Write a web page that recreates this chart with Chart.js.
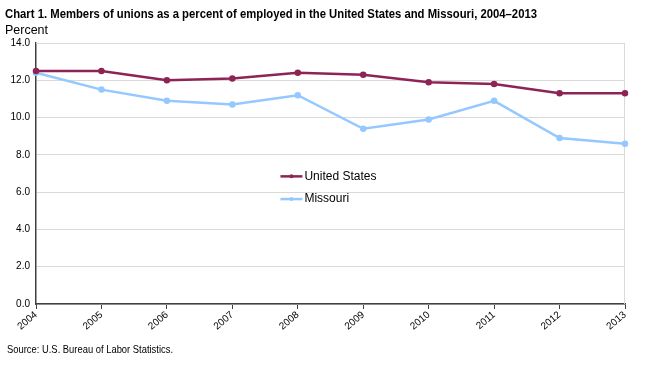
<!DOCTYPE html>
<html>
<head>
<meta charset="utf-8">
<script src="https://cdn.jsdelivr.net/npm/chart.js@4/dist/chart.umd.min.js"></script>
<style>
  body { margin: 0; background: #fff; }
  #wrap { position: relative; width: 650px; height: 369px; }
  canvas { position: absolute; left: 0; top: 0; }
  .txt { position: absolute; font-family: "Liberation Sans", Arial, sans-serif; color: #000; white-space: nowrap; transform-origin: 0 0; }
  #title { left: 5px; top: 6px; font-size: 13px; font-weight: bold; }
  #ylab { left: 5px; top: 22px; font-size: 13px; }
  #source { left: 7px; top: 343px; font-size: 11px; }
</style>
</head>
<body>
<div id="wrap">
  <canvas id="chart" width="650" height="369"></canvas>
  <div class="txt" id="title">Chart 1. Members of unions as a percent of employed in the United States and Missouri, 2004–2013</div>
  <div class="txt" id="ylab">Percent</div>
  <div class="txt" id="source">Source: U.S. Bureau of Labor Statistics.</div>
</div>
<script>
// data
const years = ['2004', '2005', '2006', '2007', '2008', '2009', '2010', '2011', '2012', '2013'];
const unitedStates = [12.5, 12.5, 12.0, 12.1, 12.4, 12.3, 11.9, 11.8, 11.3, 11.3];
const missouri = [12.4, 11.5, 10.9, 10.7, 11.2, 9.4, 9.9, 10.9, 8.9, 8.6];

const usColor = '#8E2455';
const moColor = '#94C8FF';
const fontFam = '"Liberation Sans", Arial, sans-serif';

// the original uses a narrow face; squeeze the html text to the same widths
function squeeze(id, w) {
    const el = document.getElementById(id);
    const cur = el.getBoundingClientRect().width;
    el.style.transform = `scaleX(${w / cur})`;
}
squeeze('title', 532);
squeeze('ylab', 43);
squeeze('source', 166);

// light frame on top/right of plot area + legend inside plot
const framePlugin = {
    id: 'frame',
    beforeDatasetsDraw(chart) {
        const { ctx, chartArea: a } = chart;
        ctx.save();
        ctx.strokeStyle = '#d9d9d9';
        ctx.lineWidth = 1;
        ctx.beginPath();
        ctx.moveTo(a.left, a.top + 0.5);
        ctx.lineTo(a.right - 0.5, a.top + 0.5);
        ctx.lineTo(a.right - 0.5, a.bottom);
        ctx.stroke();
        ctx.restore();
    },
    afterDraw(chart) {
        const { ctx, chartArea: a } = chart;
        const x0 = a.left + (a.right - a.left) * 0.415;
        const items = [
            { label: 'United States', color: usColor, y: a.top + (a.bottom - a.top) * 0.511 },
            { label: 'Missouri', color: moColor, y: a.top + (a.bottom - a.top) * 0.598 },
        ];
        ctx.save();
        items.forEach(it => {
            ctx.strokeStyle = it.color;
            ctx.fillStyle = it.color;
            ctx.lineWidth = 2.5;
            ctx.beginPath();
            ctx.moveTo(x0, it.y);
            ctx.lineTo(x0 + 22, it.y);
            ctx.stroke();
            ctx.beginPath();
            ctx.arc(x0 + 11, it.y, 2, 0, Math.PI * 2);
            ctx.fill();
            ctx.fillStyle = '#000';
            ctx.font = '12px ' + fontFam;
            ctx.textBaseline = 'middle';
            ctx.fillText(it.label, x0 + 24, it.y);
        });
        ctx.restore();
    }
};

new Chart(document.getElementById('chart'), {
    type: 'line',
    data: {
        labels: years,
        datasets: [
            {
                label: 'United States',
                data: unitedStates,
                borderColor: usColor,
                backgroundColor: usColor,
                borderWidth: 2.5,
                pointRadius: 2,
                tension: 0,
            },
            {
                label: 'Missouri',
                data: missouri,
                borderColor: moColor,
                backgroundColor: moColor,
                borderWidth: 2.5,
                pointRadius: 2,
                tension: 0,
            }
        ]
    },
    options: {
        responsive: false,
        animation: false,
        layout: { padding: { top: 43, right: 25, left: 0, bottom: 0 } },
        plugins: { legend: { display: false }, tooltip: { enabled: false } },
        scales: {
            x: {
                offset: false,
                grid: { display: true, drawOnChartArea: false, drawTicks: true, tickLength: 5, color: '#404040' },
                border: { color: '#404040', width: 1.5 },
                ticks: { color: '#000', font: { family: fontFam, size: 10 }, maxRotation: 40, minRotation: 40, padding: 0 },
                afterFit(scale) { scale.height = 65; }
            },
            y: {
                min: 0, max: 14,
                grid: { color: '#d9d9d9', drawTicks: false },
                border: { color: '#404040', width: 1.5 },
                ticks: {
                    stepSize: 2, color: '#000', padding: 6,
                    font: { family: fontFam, size: 10 },
                    callback: v => v.toFixed(1)
                },
                afterFit(scale) { scale.width = 36; }
            }
        }
    },
    plugins: [framePlugin]
});
</script>
</body>
</html>
